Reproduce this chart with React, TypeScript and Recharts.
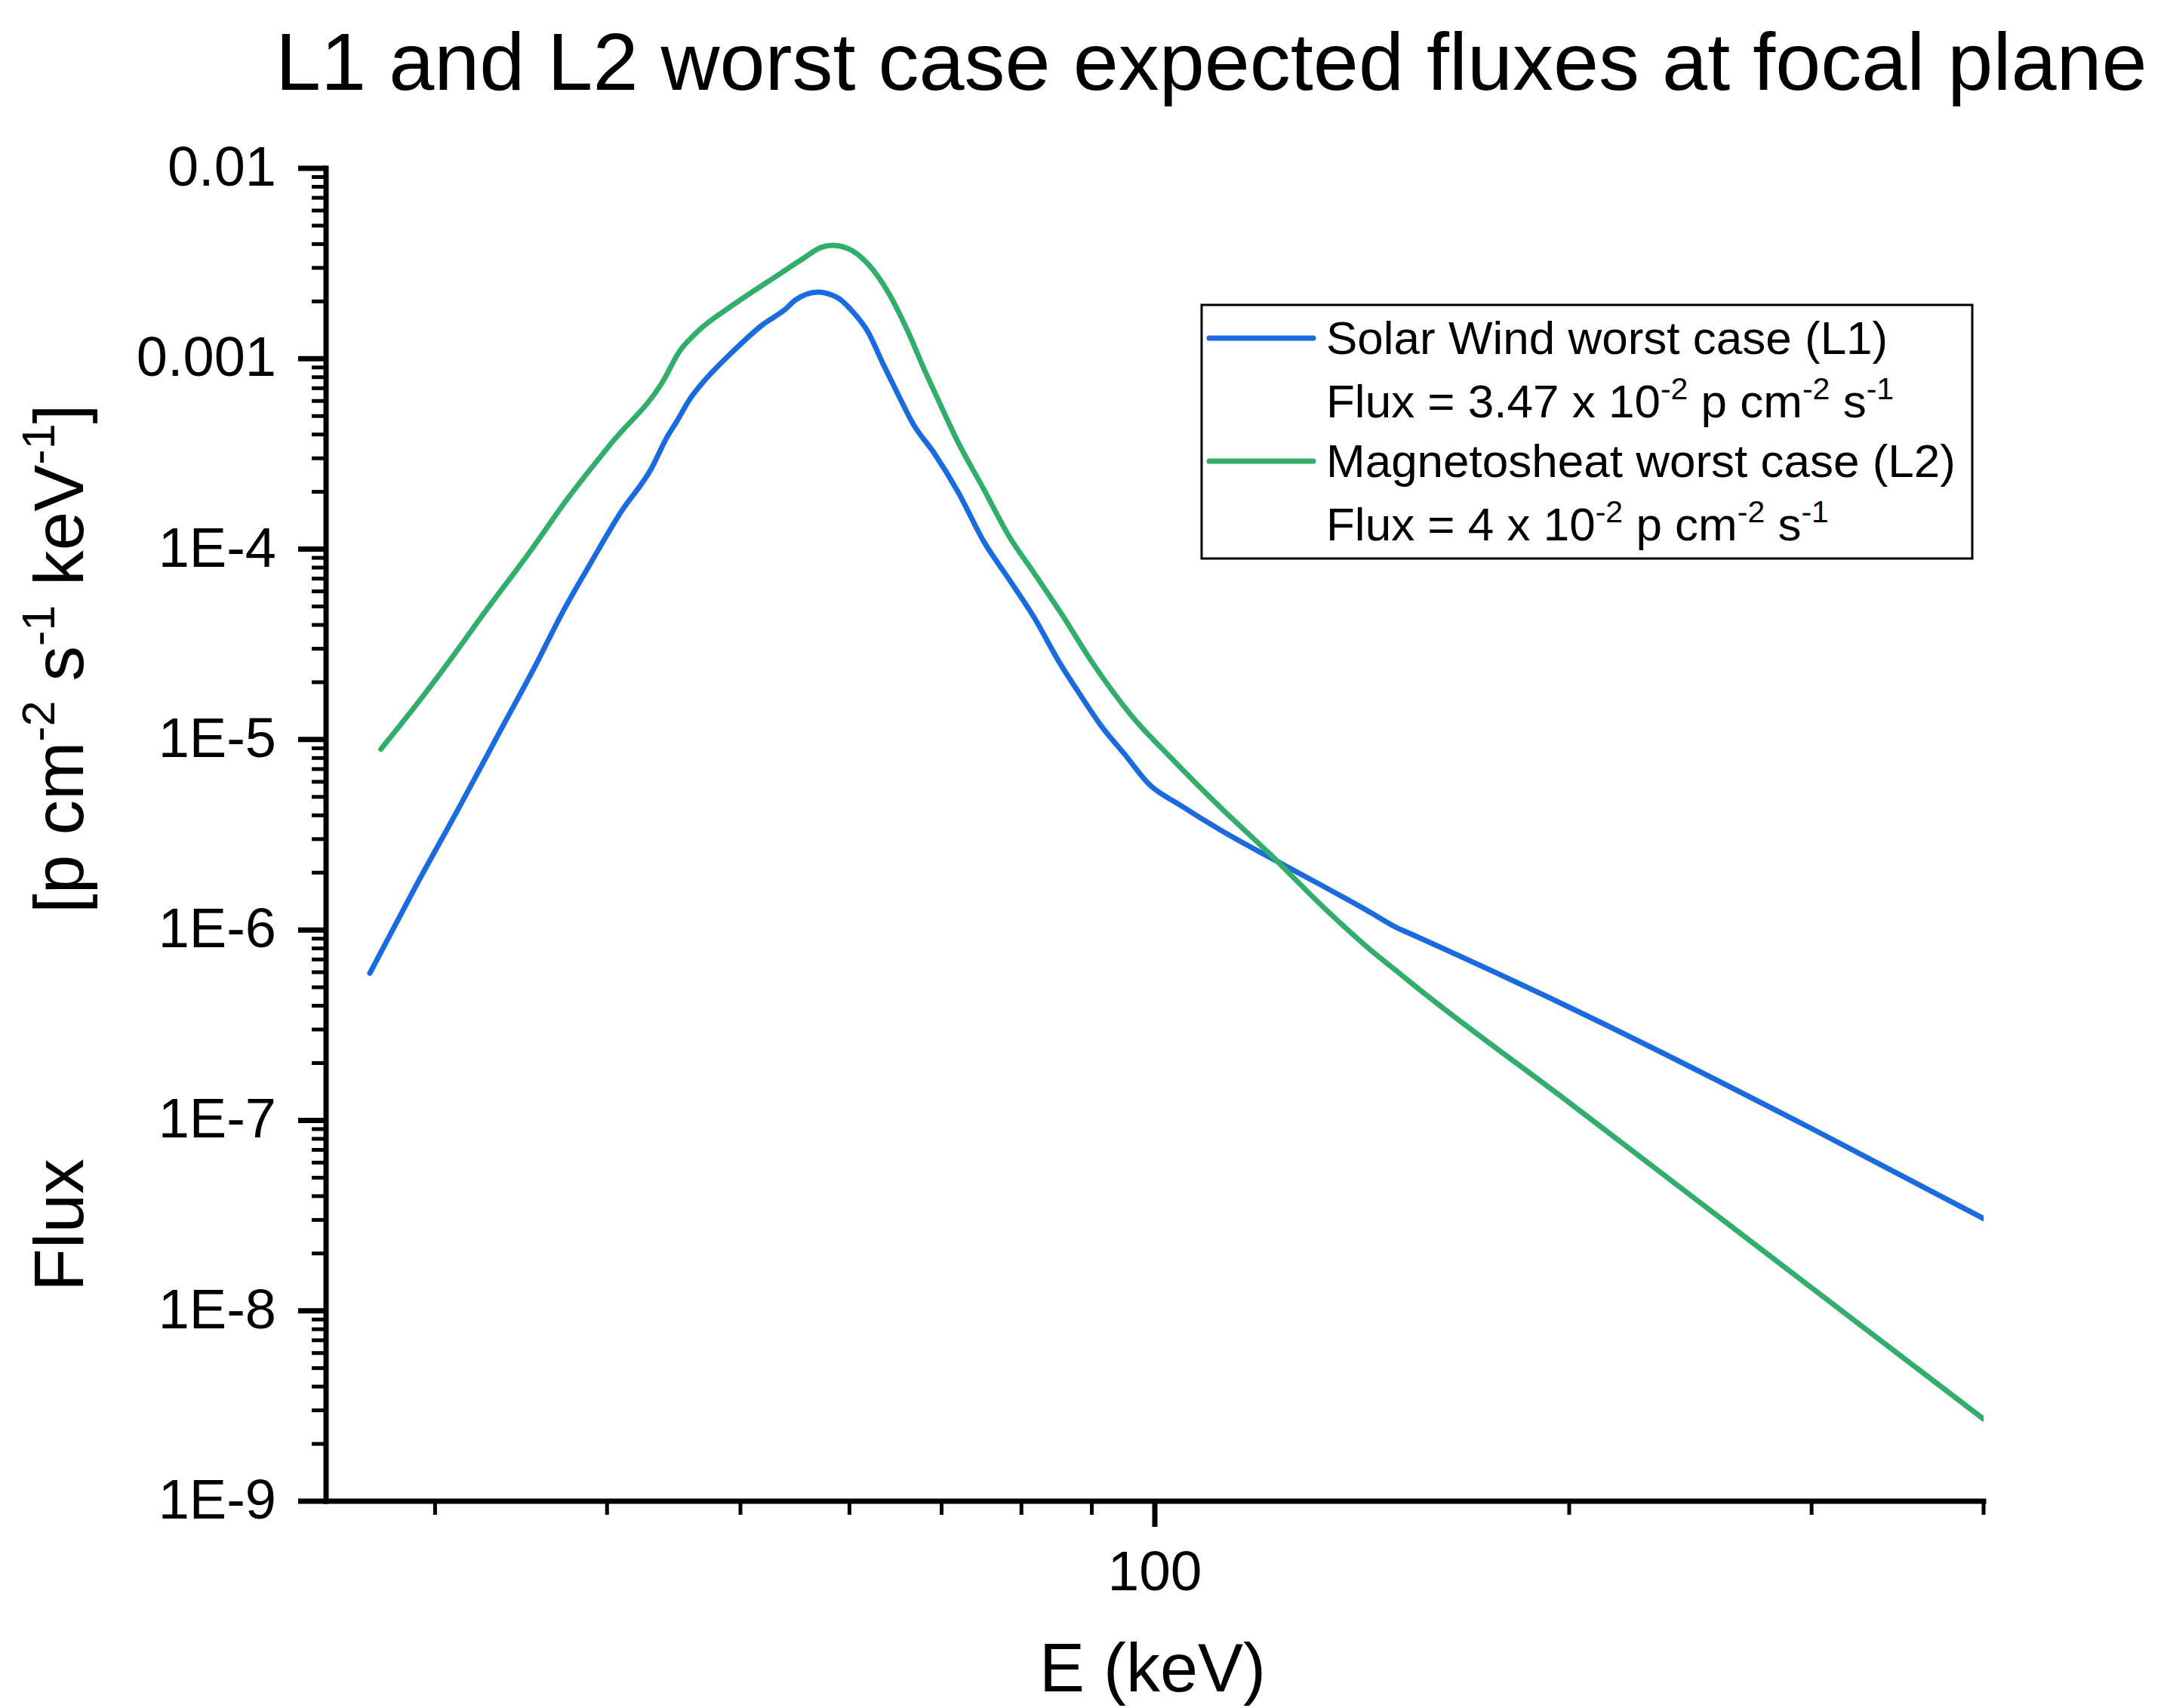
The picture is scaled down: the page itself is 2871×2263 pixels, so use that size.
import React from "react";
import { LineChart, Line, XAxis, YAxis, Legend } from "recharts";

// Solar wind worst case (L1)
const solarWindE = [
  26.9, 29.0, 31.3, 33.5, 35.6, 37.0, 38.9, 40.9, 43.1, 44.2, 45.0, 45.9, 46.9, 49.3,
  51.9, 53.9, 54.8, 56.9, 58.9, 60.1, 61.9, 63.5, 65.1, 66.8, 69.1, 72.0, 75.1, 78.3,
  81.7, 85.2, 88.4, 91.5, 95.1, 99.1, 104.3, 111.6, 121.4, 132.1, 143.6, 149.8, 153.6,
  200, 300, 400,
];
const solarWindFlux = [
  5.93e-7, 1.66e-6, 4.53e-6, 1.13e-5, 2.56e-5, 4.44e-5, 8.4e-5, 1.55e-4, 2.67e-4, 3.85e-4,
  4.75e-4, 6.08e-4, 7.43e-4, 1.08e-3, 1.51e-3, 1.82e-3, 2.03e-3, 2.24e-3, 2.08e-3, 1.82e-3,
  1.38e-3, 9.33e-4, 6.47e-4, 4.5e-4, 3.21e-4, 1.98e-4, 1.1e-4, 7.0e-5, 4.39e-5, 2.56e-5,
  1.69e-5, 1.17e-5, 8.35e-6, 5.8e-6, 4.53e-6, 3.35e-6, 2.39e-6, 1.72e-6, 1.23e-6, 1.03e-6,
  9.5e-7, 3.93e-7, 9.06e-8, 3.05e-8,
];

// Magnetosheath worst case (L2)
const magnetosheathE = [
  27.4, 29.4, 30.9, 32.4, 35.2, 37.4, 40.3, 44.0, 45.1, 46.5, 49.3, 53.2, 55.5, 57.2,
  58.3, 59.8, 61.9, 64.0, 66.2, 67.9, 69.6, 72.0, 75.1, 78.3, 81.7, 85.5, 90.0, 96.3,
  102.6, 111.6, 121.4, 132.1, 143.6, 149.8, 153.6, 200, 300, 400,
];
const magnetosheathFlux = [
  8.9e-6, 1.69e-5, 2.73e-5, 4.39e-5, 9.8e-5, 1.82e-4, 3.61e-4, 7.78e-4, 1.08e-3, 1.38e-3,
  1.9e-3, 2.74e-3, 3.35e-3, 3.84e-3, 3.94e-3, 3.8e-3, 3.14e-3, 2.24e-3, 1.38e-3, 9.0e-4,
  6.08e-4, 3.61e-4, 2.07e-4, 1.18e-4, 7.5e-5, 4.6e-5, 2.56e-5, 1.32e-5, 8.1e-6, 4.4e-6,
  2.48e-6, 1.35e-6, 7.8e-7, 6.1e-7, 5.26e-7, 1.24e-7, 1.32e-8, 2.7e-9,
];

const seriesNames = ["Solar Wind worst case (L1)", "Magnetosheat worst case (L2)"];
const seriesFluxMantissa = ["3.47", "4"];

const xTicks = [30, 40, 50, 60, 70, 80, 90, 100, 200, 300, 400];
const xMajorTicks = [100];
const yDecades = [1e-9, 1e-8, 1e-7, 1e-6, 1e-5, 1e-4, 1e-3, 1e-2];
const yDecadeLabels = ["1E-9", "1E-8", "1E-7", "1E-6", "1E-5", "1E-4", "0.001", "0.01"];
const yMinorSteps = [2, 3, 4, 5, 6, 7, 8, 9];

const FONT = '"Liberation Sans", Arial, sans-serif';
const BLUE = "#1a6be0";
const GREEN = "#31ae6b";
const COLORS = [BLUE, GREEN];
const LINE_W = 7;

const solarWind = solarWindE.map((e, i) => ({ e, f: solarWindFlux[i] }));
const magnetosheath = magnetosheathE.map((e, i) => ({ e, f: magnetosheathFlux[i] }));

const yTicks = [
  ...yDecades,
  ...yDecades.slice(0, -1).flatMap((d) => yMinorSteps.map((m) => d * m)),
].sort((a, b) => a - b);

const XTick = ({ x, y, payload }: any) => {
  const major = xMajorTicks.includes(payload.value);
  return (
    <g>
      <line x1={x} x2={x} y1={y} y2={y + (major ? 34 : 18)} stroke="#000" strokeWidth={major ? 7 : 5} />
      {major && (
        <text x={x} y={y + 118} textAnchor="middle" fontSize={75} fontFamily={FONT} fill="#000">
          {payload.value}
        </text>
      )}
    </g>
  );
};

const YTick = ({ x, y, payload }: any) => {
  const idx = yDecades.findIndex((d) => Math.abs(payload.value / d - 1) < 1e-6);
  const major = idx >= 0;
  return (
    <g>
      <line x1={x - (major ? 37 : 19)} x2={x} y1={y} y2={y} stroke="#000" strokeWidth={major ? 7 : 5} />
      {major && (
        <text x={x - 66} y={y + 23} textAnchor="end" fontSize={74} fontFamily={FONT} fill="#000">
          {yDecadeLabels[idx]}
        </text>
      )}
    </g>
  );
};

const XTitle = ({ viewBox }: any) => (
  <text
    x={viewBox.x + viewBox.width / 2 - 3}
    y={viewBox.y + 252}
    textAnchor="middle"
    fontSize={90}
    fontFamily={FONT}
    fill="#000"
  >
    E (keV)
  </text>
);

const YTitle = () => (
  <g fontFamily={FONT} fill="#000">
    <text x={110} y={1711} transform="rotate(-90 110 1711)" fontSize={93}>
      Flux
    </text>
    <text x={110} y={1210} transform="rotate(-90 110 1210)" fontSize={93}>
      <tspan>[p cm</tspan>
      <tspan dy={-38} fontSize={61}>-2</tspan>
      <tspan dy={38}> s</tspan>
      <tspan dy={-38} fontSize={61}>-1</tspan>
      <tspan dy={38}> keV</tspan>
      <tspan dy={-38} fontSize={61}>-1</tspan>
      <tspan dy={38}>]</tspan>
    </text>
  </g>
);

const LegendBox = () => (
  <svg width={1040} height={350} style={{ display: "block" }}>
    <rect x={2} y={4} width={1021} height={336} fill="#fff" stroke="#000" strokeWidth={3} />
    {seriesNames.map((name, i) => {
      const base = 69 + i * 163;
      return (
        <g key={name} fontFamily={FONT} fill="#000" fontSize={62}>
          <line x1={12} x2={150} y1={base - 21} y2={base - 21} stroke={COLORS[i]} strokeWidth={LINE_W} strokeLinecap="round" />
          <text x={167} y={base}>{name}</text>
          <text x={167} y={base + 84}>
            <tspan>{`Flux = ${seriesFluxMantissa[i]} x 10`}</tspan>
            <tspan dy={-24} fontSize={41}>-2</tspan>
            <tspan dy={24}> p cm</tspan>
            <tspan dy={-24} fontSize={41}>-2</tspan>
            <tspan dy={24}> s</tspan>
            <tspan dy={-24} fontSize={41}>-1</tspan>
          </text>
        </g>
      );
    })}
  </svg>
);

export default function App() {
  return (
    <div style={{ position: "absolute", left: 0, top: 0, background: "#fff" }}>
      <LineChart width={2871} height={2263} margin={{ top: 223, right: 243, bottom: 0, left: 0 }}>
        <text x={365} y={119} fontSize={108} fontFamily={FONT} fill="#000">
          L1 and L2 worst case expected fluxes at focal plane
        </text>
        <XAxis
          dataKey="e"
          type="number"
          scale="log"
          domain={[25, 400]}
          allowDataOverflow
          ticks={xTicks}
          interval={0}
          height={274}
          tickSize={0}
          tickMargin={0}
          tickLine={false}
          tick={<XTick />}
          axisLine={{ stroke: "#000", strokeWidth: 7, strokeLinecap: "square" }}
          label={<XTitle />}
        />
        <YAxis
          type="number"
          scale="log"
          domain={[1e-9, 1e-2]}
          allowDataOverflow
          ticks={yTicks}
          interval={0}
          width={432}
          tickSize={0}
          tickMargin={0}
          tickLine={false}
          tick={<YTick />}
          axisLine={{ stroke: "#000", strokeWidth: 7, strokeLinecap: "square" }}
          label={<YTitle />}
        />
        <Legend
          layout="vertical"
          align="center"
          verticalAlign="middle"
          wrapperStyle={{ left: 1590, top: 400, width: 1040, height: 350 }}
          content={<LegendBox />}
        />
        <Line
          data={solarWind}
          dataKey="f"
          name={seriesNames[0]}
          type="monotone"
          stroke={BLUE}
          strokeWidth={LINE_W}
          strokeLinecap="round"
          strokeLinejoin="round"
          dot={false}
          isAnimationActive={false}
        />
        <Line
          data={magnetosheath}
          dataKey="f"
          name={seriesNames[1]}
          type="monotone"
          stroke={GREEN}
          strokeWidth={LINE_W}
          strokeLinecap="round"
          strokeLinejoin="round"
          dot={false}
          isAnimationActive={false}
        />
      </LineChart>
    </div>
  );
}
